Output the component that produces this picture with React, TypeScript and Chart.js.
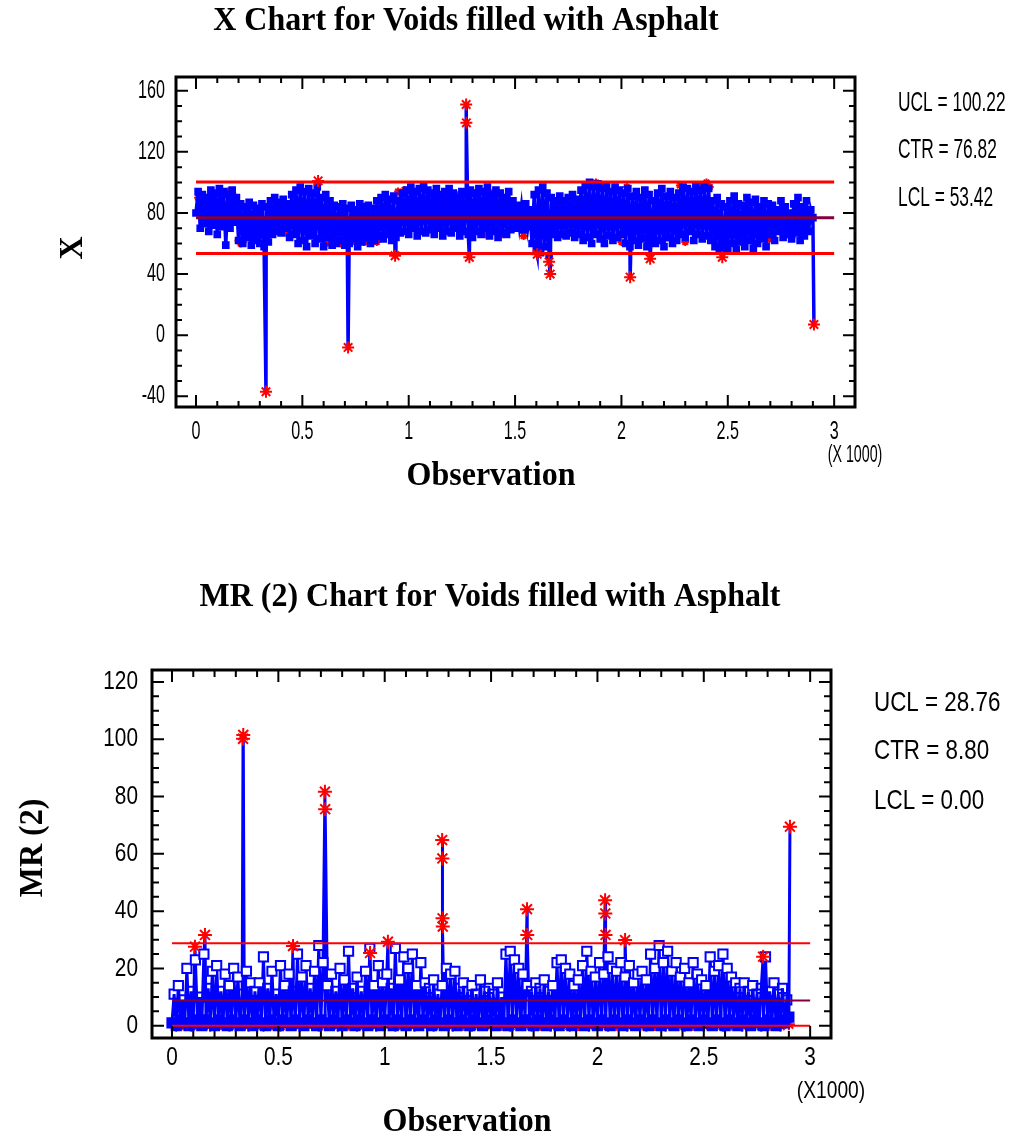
import { useEffect, useRef } from "react";
import { Chart, registerables } from "chart.js";

Chart.register(...registerables);

// ---------- DATA ----------
// Observations are sampled every BASE_STEP observations for the dense band
const BASE_STEP = 10;

// X chart: individual values (every 10th observation, 0..2900)
const xBandValues = [
  80, 94, 70, 92, 73, 90, 68, 95, 72, 93,
  66, 96, 71, 94, 59, 92, 70, 95, 74, 90,
  62, 86, 60, 84, 64, 87, 59, 85, 62, 83,
  60, 86, 58, 84, 61, 88, 66, 90, 68, 87,
  67, 89, 70, 86, 64, 92, 66, 95, 60, 97,
  62, 94, 58, 96, 65, 93, 60, 97, 63, 90,
  58, 92, 64, 88, 59, 85, 60, 84, 62, 86,
  59, 83, 60, 85, 63, 82, 58, 86, 61, 84,
  64, 85, 60, 83, 62, 88, 65, 90, 63, 92,
  66, 89, 62, 91, 64, 88, 67, 93, 68, 95,
  66, 97, 70, 94, 65, 96, 68, 98, 67, 95,
  69, 93, 66, 96, 70, 92, 65, 94, 68, 96,
  67, 93, 70, 90, 65, 94, 68, 92, 66, 95,
  64, 93, 68, 96, 66, 94, 70, 97, 65, 92,
  68, 95, 64, 93, 67, 90, 66, 94, 69, 88,
  70, 85, 72, 84, 69, 86, 71, 82, 60, 92,
  56, 95, 54, 97, 58, 93, 52, 90, 66, 88,
  64, 91, 66, 88, 65, 90, 67, 92, 64, 89,
  66, 95, 62, 98, 64, 100, 60, 97, 66, 99,
  63, 96, 60, 98, 65, 94, 62, 97, 64, 95,
  66, 93, 60, 96, 58, 91, 62, 94, 59, 90,
  63, 95, 58, 92, 64, 88, 60, 93, 62, 96,
  58, 91, 64, 94, 60, 90, 62, 93, 66, 97,
  64, 96, 68, 94, 62, 98, 66, 95, 63, 97,
  65, 96, 62, 88, 58, 90, 56, 86, 60, 84,
  57, 88, 60, 91, 56, 86, 61, 85, 58, 90,
  62, 87, 57, 89, 60, 84, 63, 88, 58, 86,
  66, 85, 62, 82, 68, 88, 64, 84, 66, 80,
  63, 86, 67, 90, 62, 84, 65, 88, 68, 82,
  77,
];
// X chart: out-of-limit observations (drawn as red asterisks)
const xOutObs = [329, 574, 715, 936, 1270, 1271, 1285, 1604, 1660, 1665, 2041, 2135, 2474, 2905];
const xOutValues = [-37, 101, -8, 52, 151, 139, 51, 53, 48, 40, 38, 50, 51, 7];
// X chart: run-rule flagged observations (small red asterisks)
const xRunObs = [10, 20, 30, 140, 150, 160, 170, 200, 210, 220, 420, 440, 610, 620, 650, 660, 680, 730, 760, 790, 820, 850, 950, 980, 1010, 1040, 1120, 1160, 1190, 1220, 1250, 1320, 1340, 1360, 1370, 1400, 1415, 1430, 1440, 1540, 1880, 1895, 1905, 2000, 2025, 2215, 2275, 2300, 2380, 2400, 2415, 2465, 2480, 2670, 2695, 2800];
const xRunValues = [90, 88, 91, 93, 94, 92, 93, 62, 60, 61, 67, 66, 60, 61, 62, 61, 60, 61, 62, 61, 62, 61, 94, 95, 96, 94, 91, 90, 91, 92, 91, 93, 94, 66, 95, 93, 92, 92, 66, 65, 100, 99, 63, 61, 97, 64, 98, 61, 98, 100, 97, 60, 55, 64, 63, 64];
const X_UCL = 100.22;
const X_CTR = 76.82;
const X_LCL = 53.42;

// MR(2) chart: moving ranges (every 10th observation, 0..2900)
const mrBandValues = [
  1, 11, 0, 14, 2, 9, 1, 20, 0, 12,
  2, 23, 1, 10, 0, 25, 2, 13, 1, 19,
  0, 21, 2, 12, 1, 18, 0, 14, 2, 20,
  1, 17, 0, 11, 2, 19, 1, 15, 0, 12,
  2, 15, 1, 24, 0, 13, 2, 19, 1, 11,
  0, 21, 2, 14, 1, 18, 0, 12, 2, 25,
  1, 17, 0, 21, 2, 13, 1, 19, 0, 28,
  2, 22, 1, 14, 0, 18, 2, 12, 1, 20,
  0, 16, 2, 26, 1, 13, 0, 17, 2, 12,
  1, 19, 0, 27, 2, 14, 1, 21, 0, 15,
  2, 18, 1, 13, 0, 27, 2, 16, 1, 24,
  0, 20, 2, 25, 1, 14, 0, 22, 2, 15,
  1, 13, 0, 16, 2, 11, 1, 14, 0, 20,
  2, 18, 1, 19, 0, 13, 2, 15, 1, 12,
  0, 14, 2, 11, 1, 16, 0, 12, 2, 13,
  1, 11, 0, 15, 2, 10, 1, 25, 0, 26,
  2, 23, 1, 20, 0, 18, 2, 14, 1, 12,
  0, 15, 2, 13, 1, 16, 0, 12, 2, 14,
  1, 22, 0, 23, 2, 20, 1, 18, 0, 14,
  2, 16, 1, 21, 0, 26, 2, 19, 1, 17,
  0, 22, 2, 18, 1, 24, 0, 20, 2, 19,
  1, 22, 0, 17, 2, 21, 1, 15, 0, 18,
  2, 19, 1, 16, 0, 25, 2, 20, 1, 28,
  0, 22, 2, 26, 1, 19, 0, 22, 2, 17,
  1, 20, 0, 15, 2, 22, 1, 18, 0, 16,
  2, 14, 1, 24, 0, 19, 2, 21, 1, 25,
  0, 20, 2, 17, 1, 15, 0, 13, 2, 15,
  1, 12, 0, 14, 2, 11, 1, 13, 0, 24,
  2, 12, 1, 15, 0, 11, 2, 13, 1, 9,
  3,
];
const mrOutObs = [108, 155, 334, 335, 569, 719, 720, 931, 1015, 1270, 1271, 1272, 1273, 1669, 1670, 2036, 2037, 2038, 2130, 2779, 2905];
const mrOutValues = [27.6, 31.7, 100.2, 101.5, 27.8, 81.7, 75.6, 25.4, 29.3, 64.8, 58.4, 37.5, 34.6, 40.7, 31.7, 43.8, 39.2, 31.7, 29.9, 24.1, 69.5];
const mrRunObs = [20, 50, 90, 130, 180, 230, 270, 300, 360, 390, 430, 470, 510, 560, 600, 640, 690, 740, 780, 830, 870, 910, 960, 1000, 1050, 1090, 1140, 1180, 1230, 1280, 1320, 1370, 1410, 1460, 1500, 1550, 1590, 1640, 1690, 1730, 1780, 1820, 1870, 1910, 1960, 2000, 2050, 2090, 2140, 2180, 2230, 2270, 2320, 2360, 2410, 2450, 2500, 2540, 2590, 2630, 2680, 2720, 2770, 2810, 2860, 2900];
const mrRunValues = [0, 0.5, 0, 0.3, 0, 0.6, 0, 0.2, 0, 0.4, 0, 0.5, 0, 0.3, 0, 0.2, 0, 0.6, 0, 0.4, 0, 0.3, 0, 0.5, 0, 0.2, 0, 0.4, 0, 0.6, 0, 0.3, 0, 0.5, 0, 0.2, 0, 0.4, 0, 0.3, 0, 0.6, 0, 0.2, 0, 0.5, 0, 0.3, 0, 0.4, 0, 0.2, 0, 0.6, 0, 0.3, 0, 0.5, 0, 0.4, 0, 0.2, 0, 0.3, 0, 0.5];
const MR_UCL = 28.76;
const MR_CTR = 8.8;
const MR_LCL = 0.0;

// limits are drawn over observations 0..3000
const LIMIT_SPAN = [0, 3000];

// Axis ticks
const obsTickValues = [0, 500, 1000, 1500, 2000, 2500, 3000];
const obsTickLabels = ["0", "0.5", "1", "1.5", "2", "2.5", "3"];
const xChartYTicks = [-40, 0, 40, 80, 120, 160];
const mrChartYTicks = [0, 20, 40, 60, 80, 100, 120];

// ---------- HELPERS ----------
const SANS = "'Liberation Sans', Arial, sans-serif";
const SERIF = "'Liberation Serif', 'Times New Roman', serif";

type Pt = { x: number; y: number; flagged?: boolean };

function bandPoints(values: number[], extraObs: number[], extraVals: number[]): Pt[] {
  const pts: Pt[] = values.map((v, i) => ({ x: i * BASE_STEP, y: v }));
  extraObs.forEach((o, i) => pts.push({ x: o, y: extraVals[i], flagged: true }));
  return pts.sort((a, b) => a.x - b.x);
}
function pairs(obs: number[], vals: number[]): Pt[] {
  return obs.map((o, i) => ({ x: o, y: vals[i] }));
}

function drawText(ctx: CanvasRenderingContext2D, s: string, x: number, y: number, font: string, align: CanvasTextAlign, sx = 1, sy = 1, rot = 0) {
  ctx.save();
  ctx.translate(x, y);
  if (rot) ctx.rotate(rot);
  ctx.scale(sx, sy);
  ctx.font = font;
  ctx.textAlign = align;
  ctx.textBaseline = "middle";
  ctx.fillStyle = "#000";
  ctx.fillText(s, 0, 0);
  ctx.restore();
}

const decorPlugin = {
  id: "decor",
  afterDraw(chart: any, _args: any, o: any) {
    const { ctx, chartArea: a } = chart;
    const xs = chart.scales.x;
    const ys = chart.scales.y;
    ctx.save();
    // ticks (inward on all four sides)
    ctx.strokeStyle = "#000";
    ctx.lineWidth = o.tickWidth;
    ctx.beginPath();
    for (let v = Math.ceil(xs.min / o.xMinor) * o.xMinor; v <= xs.max; v += o.xMinor) {
      const px = xs.getPixelForValue(v);
      const len = v % o.xMajor === 0 ? o.majorLen : o.minorLen;
      ctx.moveTo(px, a.bottom);
      ctx.lineTo(px, a.bottom - len);
      ctx.moveTo(px, a.top);
      ctx.lineTo(px, a.top + len);
    }
    for (let v = Math.ceil(ys.min / o.yMinor) * o.yMinor; v <= ys.max; v += o.yMinor) {
      const py = ys.getPixelForValue(v);
      const len = v % o.yMajor === 0 ? o.majorLen : o.minorLen;
      ctx.moveTo(a.left, py);
      ctx.lineTo(a.left + len, py);
      ctx.moveTo(a.right, py);
      ctx.lineTo(a.right - len, py);
    }
    ctx.stroke();
    // frame
    ctx.lineWidth = o.boxWidth;
    ctx.strokeRect(a.left, a.top, a.right - a.left, a.bottom - a.top);
    ctx.restore();

    const tf = `${o.tickFont}px ${SANS}`;
    o.yTicks.forEach((v: number) => {
      drawText(ctx, String(v), o.yLabelRight, ys.getPixelForValue(v), tf, "right", o.tickSx);
    });
    o.xTicks.forEach((v: number, i: number) => {
      drawText(ctx, o.xLabels[i], xs.getPixelForValue(v), o.xLabelY, tf, "center", o.tickSx);
    });
    drawText(ctx, o.mult, o.multX, o.multY, `${o.multFont}px ${SANS}`, "center", o.tickSx);
    const sf = `bold ${o.titleFont}px ${SERIF}`;
    drawText(ctx, o.title, o.titleX, o.titleY, sf, "center", 1, o.serifSy);
    drawText(ctx, "Observation", o.obsX, o.obsY, sf, "center", 1, o.serifSy);
    drawText(ctx, o.yTitle, o.yTitleX, o.yTitleY, sf, "center", 1, o.serifSy, -Math.PI / 2);
    o.limitLabels.forEach((s: string, i: number) => {
      drawText(ctx, s, o.limX, o.limY[i], `${o.limFont}px ${SANS}`, "left", o.limSx);
    });
  },
};

function makeConfig(p: any): any {
  const lines = [
    { y: p.ucl, color: "#FF0000" },
    { y: p.ctr, color: "#800040" },
    { y: p.lcl, color: "#FF0000" },
  ].map((l) => ({
    type: "line",
    data: [{ x: LIMIT_SPAN[0], y: l.y }, { x: LIMIT_SPAN[1], y: l.y }],
    borderColor: l.color,
    borderWidth: p.limitWidth,
    pointRadius: 0,
    order: 2,
  }));
  return {
    type: "line",
    data: {
      datasets: [
        {
          type: "scatter",
          data: p.run,
          pointStyle: "star",
          pointRadius: p.runRadius,
          borderColor: "#FF0000",
          pointBorderWidth: 2,
          order: 4,
        },
        {
          type: "line",
          data: p.band,
          borderColor: "#0000FF",
          borderWidth: p.lineWidth,
          pointStyle: "rect",
          pointRadius: (c: any) => (c.raw && c.raw.flagged ? 0 : p.sqRadius),
          pointBorderWidth: p.sqBorder,
          pointBorderColor: "#0000FF",
          pointBackgroundColor: (c: any) => {
            const y = c.raw ? c.raw.y : 0;
            if (y > p.whiteAbove) return "#FFFFFF";
            if (y <= p.solidBelow) return "#0000FF";
            return p.sqFill;
          },
          tension: 0,
          order: 3,
        },
        ...lines,
        {
          type: "scatter",
          data: p.out,
          pointStyle: "star",
          pointRadius: p.outRadius,
          borderColor: "#FF0000",
          pointBorderWidth: 2,
          order: 1,
        },
      ],
    },
    options: {
      responsive: false,
      maintainAspectRatio: false,
      animation: false,
      events: [],
      layout: { padding: p.padding },
      plugins: { legend: { display: false }, tooltip: { enabled: false }, decor: p.decor },
      scales: {
        x: { type: "linear", min: -94, max: 3098, display: false },
        y: { type: "linear", min: p.yMin, max: p.yMax, display: false },
      },
    },
    plugins: [decorPlugin],
  };
}

function ChartCanvas({ config, top, height }: { config: () => any; top: number; height: number }) {
  const ref = useRef<HTMLCanvasElement>(null);
  useEffect(() => {
    const chart = new Chart(ref.current as HTMLCanvasElement, config());
    return () => chart.destroy();
  }, []);
  return (
    <canvas
      ref={ref}
      width={1013}
      height={height}
      style={{ position: "absolute", left: 0, top, width: 1013, height, display: "block" }}
    />
  );
}

const xChartConfig = () =>
  makeConfig({
    ucl: X_UCL, ctr: X_CTR, lcl: X_LCL,
    band: bandPoints(xBandValues, xOutObs, xOutValues),
    out: pairs(xOutObs, xOutValues),
    run: pairs(xRunObs, xRunValues),
    yMin: -47, yMax: 169,
    padding: { left: 176, top: 77, right: 158, bottom: 133 },
    limitWidth: 3, lineWidth: 3.5, sqRadius: 4, sqBorder: 2, sqFill: "#0000FF", whiteAbove: 1000, solidBelow: 1000,
    runRadius: 4, outRadius: 6,
    decor: {
      tickWidth: 2, boxWidth: 3, majorLen: 12, minorLen: 6,
      xMinor: 100, xMajor: 500, yMinor: 10, yMajor: 40,
      yTicks: xChartYTicks, xTicks: obsTickValues, xLabels: obsTickLabels,
      tickFont: 26, tickSx: 0.62, yLabelRight: 165, xLabelY: 432,
      mult: "(X 1000)", multX: 855, multY: 456, multFont: 23,
      title: "X Chart for Voids filled with Asphalt", titleX: 466, titleY: 21, titleFont: 32, serifSy: 1.08,
      obsX: 491, obsY: 476, yTitle: "X", yTitleX: 73, yTitleY: 248,
      limitLabels: [`UCL = ${X_UCL.toFixed(2)}`, `CTR = ${X_CTR.toFixed(2)}`, `LCL = ${X_LCL.toFixed(2)}`],
      limX: 898, limY: [103, 150, 198], limFont: 28, limSx: 0.62,
    },
  });

const mrChartConfig = () =>
  makeConfig({
    ucl: MR_UCL, ctr: MR_CTR, lcl: MR_LCL,
    band: bandPoints(mrBandValues, mrOutObs, mrOutValues),
    out: pairs(mrOutObs, mrOutValues),
    run: pairs(mrRunObs, mrRunValues),
    yMin: -4.3, yMax: 124.2,
    padding: { left: 152, top: 130, right: 182, bottom: 104 },
    limitWidth: 2, lineWidth: 3, sqRadius: 6.5, sqBorder: 2, sqFill: "rgba(0,0,0,0)", whiteAbove: 13, solidBelow: 4,
    runRadius: 6, outRadius: 7,
    decor: {
      tickWidth: 2, boxWidth: 3, majorLen: 12, minorLen: 7,
      xMinor: 100, xMajor: 500, yMinor: 5, yMajor: 20,
      yTicks: mrChartYTicks, xTicks: obsTickValues, xLabels: obsTickLabels,
      tickFont: 26, tickSx: 0.8, yLabelRight: 138, xLabelY: 518,
      mult: "(X1000)", multX: 831, multY: 551, multFont: 24,
      title: "MR (2) Chart for Voids filled with Asphalt", titleX: 490, titleY: 57, titleFont: 32, serifSy: 1.08,
      obsX: 467, obsY: 582, yTitle: "MR (2)", yTitleX: 33, yTitleY: 308,
      limitLabels: [`UCL = ${MR_UCL.toFixed(2)}`, `CTR = ${MR_CTR.toFixed(2)}`, `LCL = ${MR_LCL.toFixed(2)}`],
      limX: 874, limY: [163, 211, 261], limFont: 28, limSx: 0.8,
    },
  });

export default function App() {
  return (
    <div style={{ position: "absolute", left: 0, top: 0, width: 1013, height: 1142, background: "#fff", overflow: "hidden" }}>
      <ChartCanvas config={xChartConfig} top={0} height={540} />
      <ChartCanvas config={mrChartConfig} top={540} height={602} />
    </div>
  );
}
